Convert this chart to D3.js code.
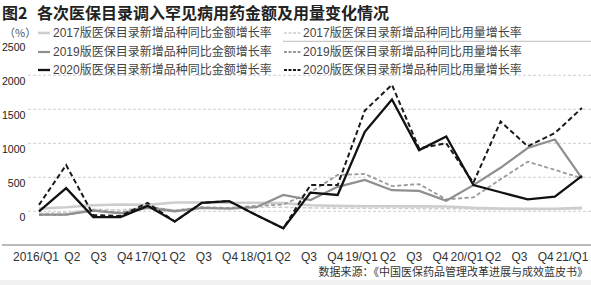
<!DOCTYPE html>
<html><head><meta charset="utf-8">
<script src="https://cdn.jsdelivr.net/npm/d3@7"></script>
<style>
html,body{margin:0;padding:0;background:#fff;}
svg{display:block;font-family:"Liberation Sans","Noto Sans CJK SC",sans-serif;}
</style></head>
<body><svg id="c" width="591" height="285"></svg>
<script>
const categories = ["2016/Q1","Q2","Q3","Q4","17/Q1","Q2","Q3","Q4","18/Q1","Q2","Q3","Q4","19/Q1","Q2","Q3","Q4","20/Q1","Q2","Q3","Q4","21/Q1"];
const yTicks = [0,500,1000,1500,2000,2500];
const amt2017 = [40,60,90,100,95,130,130,125,125,120,90,80,75,75,72,70,50,40,35,35,50];
const amt2019 = [-50,-50,10,-30,50,0,50,40,60,240,165,360,460,310,300,155,385,640,930,1055,485];
const amt2020 = [0,340,-85,-85,80,-150,125,150,-55,-250,275,240,1170,1645,900,1100,385,280,175,215,520];
const vol2017 = [-30,-20,30,20,60,20,50,40,60,60,50,45,45,45,40,40,35,30,30,30,40];
const vol2019 = [-55,-50,20,-20,70,10,60,50,80,100,280,535,550,370,400,175,205,470,730,610,485];
const vol2020 = [95,680,-55,-70,125,-150,125,150,-55,-250,385,385,1480,1860,925,1000,420,1320,955,1150,1520];
const legendLeft = ["2017版医保目录新增品种同比金额增长率","2019版医保目录新增品种同比金额增长率","2020版医保目录新增品种同比金额增长率"];
const legendRight = ["2017版医保目录新增品种同比用量增长率","2019版医保目录新增品种同比用量增长率","2020版医保目录新增品种同比用量增长率"];

const svg = d3.select("#c");
const idx = categories.map((d,i)=>i);
const x = d3.scalePoint().domain(idx).range([39,582]);
const xLab = d3.scalePoint().domain(idx).range([45.5,571.5]);
const y = d3.scaleLinear().domain([0,2500]).range([211.3,41.3]);

svg.append("rect").attr("x",0).attr("y",280).attr("width",591).attr("height",5).attr("fill","#f1f1f1");

// gridlines
svg.append("g").selectAll("line").data(yTicks).join("line")
  .attr("x1",d=>d===2500?283:28).attr("x2",591)
  .attr("y1",d=>y(d)).attr("y2",d=>y(d))
  .attr("stroke",d=>d===2500?"#aaa":"#c4c4c4").attr("stroke-width",0.8)
  .attr("stroke-dasharray",d=>d===2500?null:"3,2");
// y labels
svg.append("g").selectAll("text").data(yTicks).join("text")
  .attr("x",25.5).attr("y",d=>y(d)+9.5).attr("text-anchor","end")
  .attr("font-size",10.6).attr("fill","#222").text(d=>d);

// x axis
const xAxis = d3.axisBottom(xLab).tickSize(0).tickPadding(7).tickFormat(i=>categories[i]);
const gx = svg.append("g").attr("transform","translate(0,245)").call(xAxis);
gx.select(".domain").attr("d","M2,0H591").attr("stroke","#777").attr("stroke-width",1);
gx.selectAll("text").attr("font-size",12).attr("fill","#333")
  .attr("font-family","Liberation Sans, sans-serif")
  .attr("dx",(d,i)=>i===0?-10:0);

// series
const line = d3.line().x((d,i)=>x(i)).y(d=>y(d));
const series = [
  {v:vol2017, c:"#cfcfcf", w:1.6, dash:"4,2"},
  {v:amt2017, c:"#cdcdcd", w:2.6, dash:null},
  {v:vol2019, c:"#9a9a9a", w:1.8, dash:"4,2.5"},
  {v:amt2019, c:"#8f8f8f", w:2.2, dash:null},
  {v:vol2020, c:"#1a1a1a", w:2, dash:"5,3"},
  {v:amt2020, c:"#111", w:2.3, dash:null}
];
svg.append("g").selectAll("path").data(series).join("path")
  .attr("d",d=>line(d.v)).attr("fill","none")
  .attr("stroke",d=>d.c).attr("stroke-width",d=>d.w)
  .attr("stroke-dasharray",d=>d.dash).attr("stroke-linejoin","miter");

// title
const t = svg.append("text").attr("x",2).attr("y",19).attr("font-size",16).attr("font-weight","bold")
  .attr("fill","#222").attr("font-family","Noto Sans CJK SC, sans-serif");
t.append("tspan").text("图2");
t.append("tspan").attr("x",37).text("各次医保目录调入罕见病用药金额及用量变化情况");

// legend
svg.append("text").attr("x",4).attr("y",37).attr("font-size",11).attr("fill","#555")
  .attr("font-family","Noto Sans CJK SC, sans-serif").text("（%）");
const legY = [33,52,70];
const leftStyles = [series[1],series[3],series[5]];
const rightStyles = [series[0],series[2],series[4]];
const gl = svg.append("g");
legendLeft.forEach((s,i)=>{
  gl.append("line").attr("x1",38).attr("x2",50).attr("y1",legY[i]).attr("y2",legY[i])
    .attr("stroke",leftStyles[i].c).attr("stroke-width",leftStyles[i].w);
  gl.append("text").attr("x",53).attr("y",legY[i]+4.2).attr("font-size",12).attr("fill","#444").text(s);
});
legendRight.forEach((s,i)=>{
  gl.append("line").attr("x1",284).attr("x2",302).attr("y1",legY[i]).attr("y2",legY[i])
    .attr("stroke",rightStyles[i].c).attr("stroke-width",rightStyles[i].w)
    .attr("stroke-dasharray","3,1.5");
  gl.append("text").attr("x",303).attr("y",legY[i]+4.2).attr("font-size",12).attr("fill","#444").text(s);
});

// source
svg.append("text").attr("x",588).attr("y",276).attr("text-anchor","end").attr("font-size",11)
  .attr("fill","#333").text("数据来源：《中国医保药品管理改革进展与成效蓝皮书》");
</script></body></html>
